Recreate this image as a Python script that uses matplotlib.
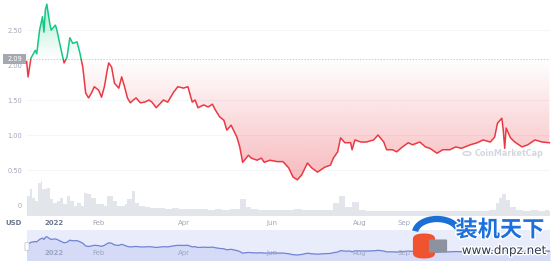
import numpy as np
import pandas as pd
import matplotlib
matplotlib.use('Agg')
import matplotlib.pyplot as plt
import matplotlib.dates as mdates
import matplotlib.transforms as mtrans
import matplotlib.patheffects as pe
from matplotlib.patches import Rectangle, FancyBboxPatch, Arc, Circle
from matplotlib.path import Path
from matplotlib.colors import to_rgb

# ---------------- data ----------------
price_dates = [
    "2021-12-13", "2021-12-14", "2021-12-16", "2021-12-19", "2021-12-20", "2021-12-22",
    "2021-12-24", "2021-12-25", "2021-12-26", "2021-12-27", "2021-12-29", "2021-12-30",
    "2022-01-02", "2022-01-03", "2022-01-06", "2022-01-08", "2022-01-10", "2022-01-12",
    "2022-01-14", "2022-01-17", "2022-01-19", "2022-01-21", "2022-01-23", "2022-01-25",
    "2022-01-27", "2022-01-29", "2022-02-01", "2022-02-03", "2022-02-05", "2022-02-07",
    "2022-02-08", "2022-02-10", "2022-02-12", "2022-02-15", "2022-02-17", "2022-02-19",
    "2022-02-21", "2022-02-23", "2022-02-25", "2022-02-27", "2022-03-02", "2022-03-05",
    "2022-03-08", "2022-03-10", "2022-03-13", "2022-03-18", "2022-03-21", "2022-03-25",
    "2022-03-28", "2022-04-01", "2022-04-04", "2022-04-07", "2022-04-09", "2022-04-11",
    "2022-04-15", "2022-04-18", "2022-04-21", "2022-04-23", "2022-04-26", "2022-04-29",
    "2022-05-01", "2022-05-04", "2022-05-08", "2022-05-10", "2022-05-12", "2022-05-16",
    "2022-05-18", "2022-05-22", "2022-05-25", "2022-05-27", "2022-05-31", "2022-06-05",
    "2022-06-09", "2022-06-13", "2022-06-16", "2022-06-19", "2022-06-22", "2022-06-26",
    "2022-06-29", "2022-07-03", "2022-07-08", "2022-07-12", "2022-07-14", "2022-07-17",
    "2022-07-19", "2022-07-22", "2022-07-26", "2022-07-27", "2022-07-29", "2022-08-02",
    "2022-08-06", "2022-08-11", "2022-08-14", "2022-08-18", "2022-08-20", "2022-08-24",
    "2022-08-27", "2022-08-31", "2022-09-04", "2022-09-07", "2022-09-12", "2022-09-16",
    "2022-09-19", "2022-09-24", "2022-09-28", "2022-10-03", "2022-10-07", "2022-10-11",
    "2022-10-17", "2022-10-22", "2022-10-26", "2022-10-31", "2022-11-03", "2022-11-05",
    "2022-11-08", "2022-11-09", "2022-11-10", "2022-11-11", "2022-11-14", "2022-11-17",
    "2022-11-22", "2022-11-26", "2022-12-01", "2022-12-06", "2022-12-11",
]
prices = [
    2.05, 1.83, 2.10, 2.21, 2.16, 2.50,
    2.69, 2.47, 2.79, 2.87, 2.60, 2.50,
    2.57, 2.50, 2.21, 2.03, 2.11, 2.39,
    2.31, 2.33, 2.17, 1.97, 1.60, 1.53,
    1.60, 1.69, 1.64, 1.54, 1.69, 1.93,
    2.03, 1.97, 1.74, 1.67, 1.83, 1.69,
    1.53, 1.46, 1.50, 1.53, 1.46, 1.47,
    1.50, 1.47, 1.39, 1.50, 1.47, 1.61,
    1.69, 1.67, 1.69, 1.47, 1.50, 1.39,
    1.43, 1.40, 1.44, 1.36, 1.26, 1.21,
    1.07, 1.14, 0.97, 0.83, 0.61, 0.71,
    0.67, 0.64, 0.67, 0.61, 0.64, 0.62,
    0.62, 0.53, 0.40, 0.36, 0.43, 0.60,
    0.53, 0.47, 0.54, 0.57, 0.67, 0.76,
    0.96, 0.89, 0.89, 0.79, 0.93, 0.90,
    0.90, 0.93, 1.00, 0.90, 0.79, 0.79,
    0.76, 0.83, 0.89, 0.86, 0.90, 0.83,
    0.81, 0.74, 0.79, 0.79, 0.83, 0.81,
    0.86, 0.89, 0.93, 0.90, 0.97, 1.17,
    1.24, 1.07, 0.81, 1.10, 0.96, 0.90,
    0.83, 0.86, 0.93, 0.90, 0.89,
]
base_price = 2.09

volume_dates = [
    "2021-12-13", "2021-12-15", "2021-12-17", "2021-12-19", "2021-12-21", "2021-12-23",
    "2021-12-24", "2021-12-27", "2021-12-29", "2021-12-31", "2022-01-03", "2022-01-05",
    "2022-01-07", "2022-01-10", "2022-01-12", "2022-01-15", "2022-01-17", "2022-01-20",
    "2022-01-22", "2022-01-24", "2022-01-27", "2022-01-30", "2022-02-02", "2022-02-05",
    "2022-02-07", "2022-02-11", "2022-02-14", "2022-02-16", "2022-02-19", "2022-02-21",
    "2022-02-24", "2022-02-26", "2022-03-01", "2022-03-05", "2022-03-09", "2022-03-14",
    "2022-03-19", "2022-03-24", "2022-03-29", "2022-04-03", "2022-04-08", "2022-04-13",
    "2022-04-18", "2022-04-23", "2022-04-28", "2022-05-03", "2022-05-07", "2022-05-10",
    "2022-05-14", "2022-05-18", "2022-05-23", "2022-05-28", "2022-06-02", "2022-06-07",
    "2022-06-12", "2022-06-17", "2022-06-22", "2022-06-27", "2022-07-02", "2022-07-07",
    "2022-07-14", "2022-07-18", "2022-07-22", "2022-07-27", "2022-08-01", "2022-08-06",
    "2022-08-11", "2022-08-16", "2022-08-21", "2022-08-26", "2022-08-31", "2022-09-05",
    "2022-09-10", "2022-09-15", "2022-09-20", "2022-09-25", "2022-09-30", "2022-10-05",
    "2022-10-10", "2022-10-15", "2022-10-20", "2022-10-25", "2022-10-30", "2022-11-04",
    "2022-11-06", "2022-11-08", "2022-11-11", "2022-11-14", "2022-11-18", "2022-11-23",
    "2022-11-28", "2022-12-03", "2022-12-08", "2022-12-11",
]
volumes_musd = [
    200, 270, 180, 150, 330, 350,
    270, 280, 170, 130, 150, 180,
    120, 200, 150, 100, 130, 100,
    230, 220, 180, 120, 120, 100,
    200, 150, 100, 100, 120, 170,
    250, 130, 100, 90, 80, 85,
    75, 80, 75, 70, 75, 70,
    65, 70, 65, 70, 70, 170,
    90, 70, 65, 60, 65, 60,
    65, 70, 60, 65, 60, 65,
    130, 200, 90, 140, 60, 55,
    50, 55, 50, 55, 50, 55,
    50, 50, 55, 50, 50, 55,
    50, 50, 55, 50, 60, 130,
    180, 220, 160, 90, 60, 55,
    60, 55, 60, 50,
]

y_ticks = [0, 0.5, 1.0, 1.5, 2.0, 2.5]
y_tick_labels = ["0", "0.50", "1.00", "1.50", "2.00", "2.50"]
x_tick_dates = ["2022-01-01", "2022-02-01", "2022-04-01", "2022-06-01", "2022-08-01", "2022-09-01"]
x_tick_labels = ["2022", "Feb", "Apr", "Jun", "Aug", "Sep"]

# ---------------- layout ----------------
W, H = 553, 263
fig = plt.figure(figsize=(W / 100, H / 100), dpi=100)
fig.patch.set_facecolor("white")

def fx(px):
    return px / W

def fy(py):
    return 1 - py / H

main_rect = [fx(27), fy(216), 523 / W, 216 / H]
axv = fig.add_axes(main_rect, zorder=1)
ax = fig.add_axes(main_rect, zorder=2)
ax.patch.set_visible(False)

jan1 = mdates.date2num(pd.Timestamp("2022-01-01"))
x0, x1 = jan1 - 18.75, jan1 + 344.45

xs = mdates.date2num(pd.to_datetime(price_dates))
p = np.array(prices)

GREEN = "#16c784"
RED = "#ea3943"
LABEL = "#a1a7bb"

# gradient fills
ylo, yhi = -0.157, 2.929
red_fill = ax.fill_between(xs, p, base_price, where=p <= base_price, interpolate=True,
                           facecolor="none", edgecolor="none")
green_fill = ax.fill_between(xs, p, base_price, where=p >= base_price, interpolate=True,
                             facecolor="none", edgecolor="none")

n = 256
img_r = np.zeros((n, 1, 4))
img_r[..., :3] = to_rgb(RED)
img_r[:, 0, 3] = np.linspace(0.0, 0.36, n)
im_r = ax.imshow(img_r, extent=[x0, x1, 0.3, base_price], aspect="auto", origin="upper",
                 interpolation="bilinear", zorder=1)
im_r.set_clip_path(Path.make_compound_path(*red_fill.get_paths()), transform=ax.transData)

img_g = np.zeros((n, 1, 4))
img_g[..., :3] = to_rgb(GREEN)
img_g[:, 0, 3] = np.linspace(0.36, 0.0, n)
im_g = ax.imshow(img_g, extent=[x0, x1, base_price, 2.9], aspect="auto", origin="upper",
                 interpolation="bilinear", zorder=1)
im_g.set_clip_path(Path.make_compound_path(*green_fill.get_paths()), transform=ax.transData)

# price line, coloured by side of baseline
lr, = ax.plot(xs, p, color=RED, lw=1.1, zorder=3, solid_joinstyle="round")
lr.set_clip_path(Rectangle((x0 - 5, -1), x1 - x0 + 10, base_price + 1, transform=ax.transData))
lg, = ax.plot(xs, p, color=GREEN, lw=1.1, zorder=3, solid_joinstyle="round")
lg.set_clip_path(Rectangle((x0 - 5, base_price), x1 - x0 + 10, 5, transform=ax.transData))

ax.axhline(base_price, color="#c9cdd4", lw=0.7, ls=(0, (1.5, 1.5)), zorder=2)
for yv in [2.5, 1.5, 1.0, 0.5]:
    ax.axhline(yv, color="#f3f4f7", lw=0.6, zorder=0.5)

ax.set_xlim(x0, x1)
ax.set_ylim(ylo, yhi)
ax.set_yticks(y_ticks)
ax.set_yticklabels(y_tick_labels)
ax.tick_params(axis="y", length=0, pad=3.6, labelsize=4.8, labelcolor=LABEL)
ax.set_xticks(mdates.date2num(pd.to_datetime(x_tick_dates)))
ax.set_xticklabels(x_tick_labels)
ax.tick_params(axis="x", length=0, pad=2.6, labelsize=5, labelcolor=LABEL)
for t in ax.get_xticklabels():
    if t.get_text() == "2022":
        t.set_fontweight("bold")
        t.set_color("#6b778c")
for s in ax.spines.values():
    s.set_visible(False)

# volume bars
vx = mdates.date2num(pd.to_datetime(volume_dates))
vw = np.append(np.diff(vx), 1.0)
axv.bar(vx, volumes_musd, width=vw, align="edge", color="#e2e5ea", edgecolor="none")
axv.set_xlim(x0, x1)
axv.set_ylim(0, 2160)
axv.axis("off")

# baseline tag
fig.add_artist(Rectangle((fx(3), fy(63.5)), 23 / W, 9.5 / H, transform=fig.transFigure,
                         facecolor="#a3a8b1", edgecolor="none", zorder=10))
fig.text(fx(14.5), fy(58.9), "2.09", ha="center", va="center", color="white",
         fontsize=4.8, zorder=11)
fig.text(fx(14), fy(223), "USD", ha="center", va="center", color="#6b778c",
         fontsize=5, fontweight="bold")

# CoinMarketCap watermark
fig.text(fx(509), fy(153.5), "CoinMarketCap", ha="center", va="center", color="#d3d7de",
         fontsize=5.8, fontweight="bold", zorder=12)
fig.add_artist(Circle((fx(467), fy(153.5)), 4 / W, transform=fig.transFigure,
                      facecolor="none", edgecolor="#d3d7de", lw=1.0, zorder=12))

# navigator
axn = fig.add_axes([fx(27), fy(260), 523 / W, 30 / H], zorder=1)
axn.set_facecolor("#e9ecfb")
axn.plot(xs, p, color="#7084d4", lw=0.9)
axn.fill_between(xs, p, -0.33, color="#d5dbf6")
axn.set_xlim(x0, x1)
axn.set_ylim(-0.33, 3.79)
axn.set_xticks([])
axn.set_yticks([])
for s in axn.spines.values():
    s.set_visible(False)
trans_n = mtrans.blended_transform_factory(axn.transData, axn.transAxes)
for d, lab in zip(mdates.date2num(pd.to_datetime(x_tick_dates)), x_tick_labels):
    axn.text(d, 0.23, lab, transform=trans_n, ha="center", va="center", fontsize=5,
             color="#9ea6c6", fontweight="bold" if lab == "2022" else "normal")
fig.add_artist(FancyBboxPatch((fx(25.5), fy(250)), 3 / W, 7 / H, boxstyle="round,pad=0.001",
                              transform=fig.transFigure, facecolor="white",
                              edgecolor="#b8bdc8", lw=0.5, zorder=12))

# site watermark (bottom right)
fig.add_artist(FancyBboxPatch((fx(414), fy(258)), 20 / W, 24 / H,
                              boxstyle="round,pad=0.002,rounding_size=0.02",
                              transform=fig.transFigure, facecolor="#f0532f",
                              edgecolor="none", zorder=13))
fig.add_artist(Arc((fx(437), fy(233)), 44 / W, 28 / H, theta1=20, theta2=170,
                   transform=fig.transFigure, color="#1c6fd6", lw=4.5, zorder=14))
fig.add_artist(FancyBboxPatch((fx(430), fy(252)), 16 / W, 12 / H,
                              boxstyle="round,pad=0.002", transform=fig.transFigure,
                              facecolor="#8c939e", edgecolor="none", zorder=14))
fig.text(fx(500), fy(230), "装机天下", ha="center", va="center", color="#1d70dc",
         fontsize=16, fontweight="bold", family=["Noto Sans CJK SC", "DejaVu Sans"],
         zorder=15, path_effects=[pe.withStroke(linewidth=2, foreground="white")])
fig.text(fx(504), fy(250.5), "www.dnpz.net", ha="center", va="center", color="#2c3a4e",
         fontsize=8.6, zorder=15,
         path_effects=[pe.withStroke(linewidth=2, foreground="white")])

fig.savefig("out.png", dpi=100)
